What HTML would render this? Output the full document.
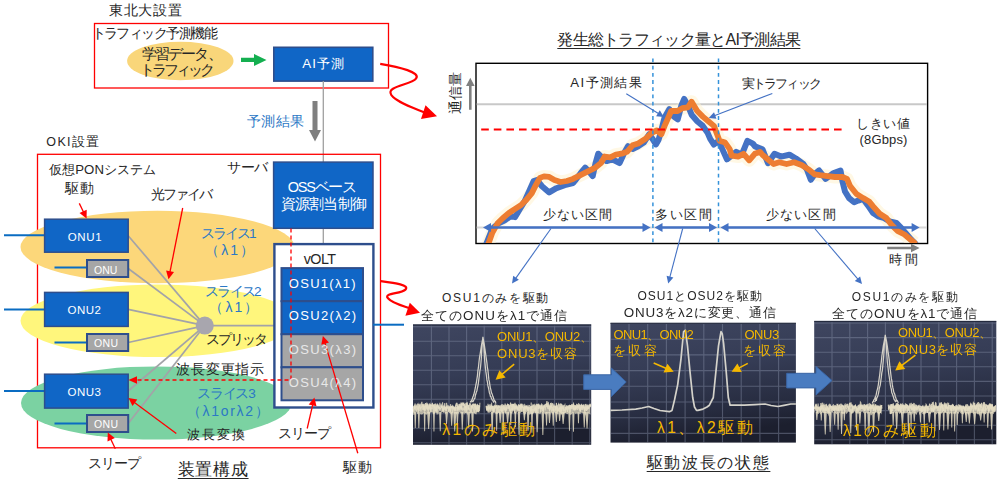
<!DOCTYPE html>
<html lang="ja"><head><meta charset="utf-8"><title>AI traffic prediction</title>
<style>
html,body{margin:0;padding:0;background:#fff;}
body{width:1000px;height:484px;position:relative;overflow:hidden;font-family:"Liberation Sans",sans-serif;}
.t{position:absolute;line-height:1;white-space:nowrap;}
</style></head><body>
<svg width="1000" height="484" viewBox="0 0 1000 484" style="position:absolute;left:0;top:0"><defs><linearGradient id="pg" x1="0" y1="0" x2="0.2" y2="1"><stop offset="0" stop-color="#3f4660"/><stop offset="0.45" stop-color="#353c55"/><stop offset="0.8" stop-color="#272c40"/><stop offset="1" stop-color="#1c1f2e"/></linearGradient><filter id="bl" x="-5%" y="-5%" width="110%" height="110%"><feGaussianBlur stdDeviation="0.45"/></filter></defs><rect x="94.5" y="23.5" width="294" height="64.5" fill="none" stroke="#FF0000" stroke-width="1.3"/><ellipse cx="180.3" cy="61" rx="53.2" ry="19.3" fill="#F9D67A"/><path d="M241,57.8H254V53.9L266.5,59.9L254,65.9V61.9H241Z" fill="#14AF50"/><rect x="273.8" y="47.3" width="99" height="33.8" fill="#1066C6" stroke="#2E4E8C" stroke-width="1.6"/><line x1="323.3" y1="81" x2="323.3" y2="244" stroke="#A0A0A0" stroke-width="1.3"/><path d="M312.5,101H317.5V130H321L315,141.5L309,130H312.5Z" fill="#7F7F7F"/><rect x="37.5" y="154.3" width="343" height="293.5" fill="none" stroke="#FF0000" stroke-width="1.3"/><ellipse cx="157.5" cy="247.05" rx="137" ry="36.25" fill="#FCD77A"/><ellipse cx="157.7" cy="320.85" rx="137.2" ry="36.25" fill="#FFF67C"/><ellipse cx="156.3" cy="403" rx="135.3" ry="36.6" fill="#7BD2A2"/><line x1="4" y1="235.2" x2="44.6" y2="235.2" stroke="#0A6CC2" stroke-width="2"/><line x1="54.5" y1="267.5" x2="86.6" y2="267.5" stroke="#0A6CC2" stroke-width="2"/><line x1="4" y1="309.4" x2="44.6" y2="309.4" stroke="#0A6CC2" stroke-width="2"/><line x1="54.5" y1="342.5" x2="87" y2="342.5" stroke="#0A6CC2" stroke-width="2"/><line x1="4" y1="391" x2="44.6" y2="391" stroke="#0A6CC2" stroke-width="2"/><line x1="54.5" y1="423.5" x2="87.5" y2="423.5" stroke="#0A6CC2" stroke-width="2"/><line x1="128.2" y1="235.7" x2="204.8" y2="325.6" stroke="#A3A3A8" stroke-width="1.7"/><line x1="128.2" y1="268.5" x2="204.8" y2="325.6" stroke="#A3A3A8" stroke-width="1.7"/><line x1="128.2" y1="309.4" x2="204.8" y2="325.6" stroke="#A3A3A8" stroke-width="1.7"/><line x1="128.2" y1="342.5" x2="204.8" y2="325.6" stroke="#A3A3A8" stroke-width="1.7"/><line x1="128.2" y1="391" x2="204.8" y2="325.6" stroke="#A3A3A8" stroke-width="1.7"/><line x1="128.2" y1="423.5" x2="204.8" y2="325.6" stroke="#A3A3A8" stroke-width="1.7"/><line x1="204.8" y1="325.6" x2="274" y2="325.6" stroke="#A3A3A8" stroke-width="1.8"/><circle cx="204.8" cy="325.6" r="9" fill="#A8A6AE"/><rect x="44.6" y="219.2" width="83.6" height="33.0" fill="#1066C6" stroke="#2E4E8C" stroke-width="1.5"/><rect x="44.6" y="292.4" width="83.6" height="34.0" fill="#1066C6" stroke="#2E4E8C" stroke-width="1.5"/><rect x="44.6" y="374.2" width="83.6" height="33.9" fill="#1066C6" stroke="#2E4E8C" stroke-width="1.5"/><rect x="87" y="260" width="41.2" height="17" fill="#A6A6A6" stroke="#2E4E8C" stroke-width="2"/><rect x="87" y="334" width="41.2" height="17" fill="#A6A6A6" stroke="#2E4E8C" stroke-width="2"/><rect x="87" y="415" width="41.2" height="17" fill="#A6A6A6" stroke="#2E4E8C" stroke-width="2"/><rect x="273.6" y="162.1" width="99.4" height="66.2" fill="#1066C6" stroke="#2E4E8C" stroke-width="1.5"/><rect x="274.4" y="244.1" width="99" height="163.4" fill="#FFFFFF" stroke="#2E4E8C" stroke-width="2.4"/><rect x="281.5" y="268.1" width="81.5" height="33.1" fill="#1066C6" stroke="#2E4E8C" stroke-width="2"/><rect x="281.5" y="301.2" width="81.5" height="33.0" fill="#1066C6" stroke="#2E4E8C" stroke-width="2"/><rect x="281.5" y="334.2" width="81.5" height="33.1" fill="#A6A6A6" stroke="#2E4E8C" stroke-width="2"/><rect x="281.5" y="367.3" width="81.5" height="33.0" fill="#A6A6A6" stroke="#2E4E8C" stroke-width="2"/><path d="M291,228.5V380H136" fill="none" stroke="#FF0000" stroke-width="1.3" stroke-dasharray="4,3"/><polygon points="128.5,380 137,376.3 137,383.7" fill="#FF0000"/><line x1="373" y1="324.7" x2="404" y2="324.7" stroke="#0A6CC2" stroke-width="2"/><line x1="79.3" y1="203.4" x2="83.6" y2="212.3" stroke="#FF0000" stroke-width="1.3"/><polygon points="86.6,218.6 79.5,213.1 86.7,209.7" fill="#FF0000"/><line x1="182.7" y1="208.0" x2="169.9" y2="272.3" stroke="#FF0000" stroke-width="1.3"/><polygon points="168.5,279.2 166.1,270.6 174.0,272.1" fill="#FF0000"/><line x1="176.3" y1="433.6" x2="134.1" y2="402.2" stroke="#FF0000" stroke-width="1.3"/><polygon points="128.5,398.0 137.3,399.6 132.5,406.0" fill="#FF0000"/><line x1="115.3" y1="448.8" x2="110.7" y2="438.9" stroke="#FF0000" stroke-width="1.3"/><polygon points="107.8,432.5 114.8,438.1 107.5,441.4" fill="#FF0000"/><line x1="307.2" y1="428.5" x2="312.8" y2="404.4" stroke="#FF0000" stroke-width="1.3"/><polygon points="314.4,397.6 316.5,406.3 308.7,404.5" fill="#FF0000"/><line x1="357.8" y1="453.3" x2="324.9" y2="342.6" stroke="#FF0000" stroke-width="1.3"/><polygon points="322.9,335.9 329.0,342.4 321.3,344.7" fill="#FF0000"/><path d="M380.2,63.8C400,67 421,72.5 416,78.6C411,85 385,86 391.4,95.2C396,101.5 410,107 424,112.3" fill="none" stroke="#FF0000" stroke-width="2.2"/><polygon points="437,116.3 425.5,105.3 421,119" fill="#FF0000"/><path d="M380.4,281C395,283 410,285 405.4,289.6C401,294 383,293 388,298.3C392,303 400,305 409,308" fill="none" stroke="#FF0000" stroke-width="2.2"/><polygon points="420,312.8 409.8,302.7 405.4,315.7" fill="#FF0000"/><rect x="476" y="63.3" width="451.6" height="180.2" fill="#FFFFFF" stroke="#000" stroke-width="1.4"/><line x1="476.7" y1="104.3" x2="926.9" y2="104.3" stroke="#C8C8C8" stroke-width="2"/><line x1="476.7" y1="227.5" x2="926.9" y2="227.5" stroke="#D8D8D8" stroke-width="2"/><clipPath id="cc"><rect x="476.7" y="64" width="450" height="179"/></clipPath><g clip-path="url(#cc)"><polyline points="488.3,244.0 492.4,232.6 497.6,223.3 502.7,218.2 508.9,213.0 515.1,208.9 521.3,204.8 526.5,199.6 531.7,193.4 535.8,185.1 539.9,177.9 544.0,176.4 549.2,176.9 554.4,180.0 560.6,182.0 566.8,181.0 573.0,178.9 575.0,177.8 582.4,174.1 589.9,170.4 595.4,167.6 601.0,163.0 604.7,156.5 610.3,157.4 615.9,154.6 621.5,153.7 627.0,151.8 632.6,145.3 638.2,143.5 645.6,138.8 651.2,133.2 656.8,130.4 661.4,134.2 664.6,125.9 671.2,111.0 677.7,111.0 682.3,108.2 687.9,107.3 691.6,101.7 697.2,111.0 702.8,116.6 708.3,121.2 713.9,125.9 716.7,133.3 719.5,140.8 725.1,142.6 729.7,149.1 731.6,155.6 738.1,156.6 743.6,153.8 749.2,160.3 754.8,153.8 760.0,151.9 762.4,154.7 768.9,160.3 773.6,164.0 779.2,162.2 786.6,164.0 794.0,162.2 801.5,165.0 808.9,169.6 814.5,174.3 820.1,175.2 827.5,176.1 834.9,177.0 842.4,177.0 847.0,178.9 849.9,185.7 856.5,194.0 863.2,198.1 869.0,201.4 873.1,206.4 879.7,213.8 886.3,218.0 891.3,224.6 897.9,231.2 904.5,234.5 909.5,238.7 914.5,242.8" fill="none" stroke="#FFF3CF" stroke-width="13" stroke-linejoin="round" opacity="0.55"/><polyline points="486.2,244.0 492.4,228.5 498.6,223.3 504.8,220.2 511.0,216.1 515.1,217.1 519.3,209.9 524.4,201.7 529.6,190.3 533.7,181.0 536.8,180.0 542.0,186.2 549.2,192.4 556.4,188.2 564.7,185.1 573.0,183.0 575.0,180.6 580.6,173.2 585.2,167.6 588.9,171.3 592.7,176.0 595.4,163.9 598.2,153.7 602.0,157.4 606.6,161.1 612.2,159.3 619.6,163.0 624.3,152.8 628.0,146.2 632.6,149.0 638.2,146.2 643.8,142.5 649.3,134.2 653.1,139.7 655.9,144.4 658.6,139.7 660.0,135.2 664.6,117.5 669.3,109.2 673.9,116.6 677.7,119.4 681.4,105.4 684.2,98.9 687.9,105.4 691.6,114.7 697.2,121.2 702.8,125.9 707.4,132.4 710.2,138.9 713.9,144.5 718.6,140.8 722.3,149.1 726.9,159.3 731.6,155.6 736.2,151.9 741.8,154.7 747.4,140.8 752.9,143.6 755.0,146.4 762.4,149.2 768.0,163.1 774.5,153.8 781.0,156.6 789.4,154.7 795.9,158.5 803.3,164.0 807.0,169.6 810.8,179.8 815.4,173.3 819.1,170.5 825.6,178.9 833.1,173.3 840.5,170.5 842.5,181.6 845.0,191.5 849.1,198.1 854.1,202.3 858.2,200.6 863.2,199.0 868.1,205.6 873.1,213.0 878.1,216.3 883.8,218.0 889.6,221.3 896.3,222.9 901.2,227.9 906.2,233.7 911.1,239.5 915.3,243.6" fill="none" stroke="#4472C4" stroke-width="6" stroke-linejoin="round" stroke-linecap="round"/><polyline points="488.3,244.0 492.4,232.6 497.6,223.3 502.7,218.2 508.9,213.0 515.1,208.9 521.3,204.8 526.5,199.6 531.7,193.4 535.8,185.1 539.9,177.9 544.0,176.4 549.2,176.9 554.4,180.0 560.6,182.0 566.8,181.0 573.0,178.9 575.0,177.8 582.4,174.1 589.9,170.4 595.4,167.6 601.0,163.0 604.7,156.5 610.3,157.4 615.9,154.6 621.5,153.7 627.0,151.8 632.6,145.3 638.2,143.5 645.6,138.8 651.2,133.2 656.8,130.4 661.4,134.2 664.6,125.9 671.2,111.0 677.7,111.0 682.3,108.2 687.9,107.3 691.6,101.7 697.2,111.0 702.8,116.6 708.3,121.2 713.9,125.9 716.7,133.3 719.5,140.8 725.1,142.6 729.7,149.1 731.6,155.6 738.1,156.6 743.6,153.8 749.2,160.3 754.8,153.8 760.0,151.9 762.4,154.7 768.9,160.3 773.6,164.0 779.2,162.2 786.6,164.0 794.0,162.2 801.5,165.0 808.9,169.6 814.5,174.3 820.1,175.2 827.5,176.1 834.9,177.0 842.4,177.0 847.0,178.9 849.9,185.7 856.5,194.0 863.2,198.1 869.0,201.4 873.1,206.4 879.7,213.8 886.3,218.0 891.3,224.6 897.9,231.2 904.5,234.5 909.5,238.7 914.5,242.8" fill="none" stroke="#ED7D31" stroke-width="5.8" stroke-linejoin="round" stroke-linecap="round"/></g><line x1="481.2" y1="129.6" x2="842" y2="129.6" stroke="#FF0000" stroke-width="2" stroke-dasharray="7.6,5"/><line x1="652.9" y1="58.5" x2="652.9" y2="243.5" stroke="#3592DA" stroke-width="1.5" stroke-dasharray="3.8,3.4"/><line x1="718.5" y1="58.5" x2="718.5" y2="243.5" stroke="#3592DA" stroke-width="1.5" stroke-dasharray="3.8,3.4"/><line x1="489" y1="227.5" x2="644.5" y2="227.5" stroke="#4472C4" stroke-width="2.5"/><polygon points="483,227.5 491,223.0 491,232.0" fill="#4472C4"/><polygon points="650.5,227.5 642.5,223.0 642.5,232.0" fill="#4472C4"/><line x1="660.5" y1="227.5" x2="711" y2="227.5" stroke="#4472C4" stroke-width="2.5"/><polygon points="654.5,227.5 662.5,223.0 662.5,232.0" fill="#4472C4"/><polygon points="717,227.5 709,223.0 709,232.0" fill="#4472C4"/><line x1="726.5" y1="227.5" x2="913.6" y2="227.5" stroke="#4472C4" stroke-width="2.5"/><polygon points="720.5,227.5 728.5,223.0 728.5,232.0" fill="#4472C4"/><polygon points="919.6,227.5 911.6,223.0 911.6,232.0" fill="#4472C4"/><line x1="626.3" y1="93.7" x2="658.8" y2="113.7" stroke="#4472C4" stroke-width="1.1"/><polygon points="663.9,116.9 656.1,116.2 659.8,110.2" fill="#4472C4"/><line x1="772.3" y1="93.5" x2="714.3" y2="115.8" stroke="#4472C4" stroke-width="1.1"/><polygon points="708.7,118.0 714.0,112.2 716.5,118.7" fill="#4472C4"/><line x1="551.0" y1="228.5" x2="515.5" y2="278.6" stroke="#4472C4" stroke-width="1.1"/><polygon points="512.0,283.5 513.2,275.8 518.9,279.8" fill="#4472C4"/><line x1="682.7" y1="228.5" x2="669.7" y2="277.7" stroke="#4472C4" stroke-width="1.1"/><polygon points="668.2,283.5 666.6,275.8 673.4,277.6" fill="#4472C4"/><line x1="814.7" y1="228.5" x2="858.1" y2="279.4" stroke="#4472C4" stroke-width="1.1"/><polygon points="862.0,284.0 854.8,280.9 860.1,276.4" fill="#4472C4"/><path d="M469,109.7V86H466L470.3,77.8L474.6,86H471.6V109.7Z" fill="#808080"/><path d="M887.2,246.7H911V243.7L919.6,248L911,252.3V249.3H887.2Z" fill="#808080"/><rect x="413" y="324.4" width="178.2" height="120.4" fill="url(#pg)"/><path d="M431.4,325.4V444.79999999999995M449.0,325.4V444.79999999999995M466.6,325.4V444.79999999999995M484.2,325.4V444.79999999999995M501.8,325.4V444.79999999999995M519.4,325.4V444.79999999999995M537.0,325.4V444.79999999999995M554.6,325.4V444.79999999999995M572.2,325.4V444.79999999999995M589.8,325.4V444.79999999999995M413,326.7H591.2M413,341.2H591.2M413,355.7H591.2M413,370.2H591.2M413,384.7H591.2M413,399.2H591.2M413,413.7H591.2M413,428.2H591.2M413,442.7H591.2" stroke="#8c95ad" stroke-width="1.1" opacity="0.42" filter="url(#bl)"/><rect x="413" y="324.4" width="178.2" height="1.2" fill="#1a1f30" opacity="0.7"/><rect x="610.5" y="322.8" width="185.4" height="119.8" fill="url(#pg)"/><path d="M629.0,323.8V442.6M647.7,323.8V442.6M666.4,323.8V442.6M685.1,323.8V442.6M703.8,323.8V442.6M722.5,323.8V442.6M741.2,323.8V442.6M759.9,323.8V442.6M778.6,323.8V442.6M610.5,323.5H795.9M610.5,339.2H795.9M610.5,354.9H795.9M610.5,370.6H795.9M610.5,386.3H795.9M610.5,402.0H795.9M610.5,417.7H795.9M610.5,433.4H795.9" stroke="#8c95ad" stroke-width="1.1" opacity="0.42" filter="url(#bl)"/><rect x="610.5" y="322.8" width="185.4" height="1.2" fill="#1a1f30" opacity="0.7"/><rect x="814.2" y="320.9" width="182.1" height="123.4" fill="url(#pg)"/><path d="M832.0,321.9V444.29999999999995M849.8,321.9V444.29999999999995M867.6,321.9V444.29999999999995M885.4,321.9V444.29999999999995M903.2,321.9V444.29999999999995M921.0,321.9V444.29999999999995M938.8,321.9V444.29999999999995M956.6,321.9V444.29999999999995M974.4,321.9V444.29999999999995M992.2,321.9V444.29999999999995M814.2,323.0H996.3000000000001M814.2,337.6H996.3000000000001M814.2,352.2H996.3000000000001M814.2,366.8H996.3000000000001M814.2,381.4H996.3000000000001M814.2,396.0H996.3000000000001M814.2,410.6H996.3000000000001M814.2,425.2H996.3000000000001M814.2,439.8H996.3000000000001" stroke="#8c95ad" stroke-width="1.1" opacity="0.42" filter="url(#bl)"/><rect x="814.2" y="320.9" width="182.1" height="1.2" fill="#1a1f30" opacity="0.7"/><g filter="url(#bl)"><path d="M413.3,407.0L414.3,404.6L415.3,406.4L416.3,405.4L417.3,405.9L418.3,406.6L419.3,403.9L420.3,407.3L421.3,407.8L422.3,404.0L423.3,405.7L424.3,403.9L425.3,404.5L426.3,404.7L427.3,403.6L428.3,404.9L429.3,403.0L430.3,404.9L431.3,404.8L432.3,404.6L433.3,404.7L434.3,404.2L435.3,403.6L436.3,403.4L437.3,405.2L438.3,405.0L439.3,407.0L440.3,407.0L441.3,405.0L442.3,406.2L443.3,405.4L444.3,405.6L445.3,407.2L446.3,406.5L447.3,406.6L448.3,406.1L449.3,407.4L450.3,406.5L451.3,407.2L452.3,406.2L453.3,406.6L454.3,407.6L455.3,406.8L456.3,406.7L457.3,406.3L458.3,403.7L459.3,404.9L460.3,406.1L461.3,403.4L462.3,404.5L463.3,402.5L464.3,404.3L465.3,403.2L466.3,402.8L467.3,405.2L468.3,404.7L469.3,405.3L470.3,404.2L471.3,405.9L472.3,403.5L473.3,404.7L474.3,404.0L475.3,406.6L476.3,406.1L477.3,403.3L478.3,404.9L479.3,404.8L479.3,413.1L478.3,411.6L477.3,411.2L476.3,414.5L475.3,413.9L474.3,413.5L473.3,412.0L472.3,412.9L471.3,411.9L470.3,413.0L469.3,413.0L468.3,412.0L467.3,415.1L466.3,413.3L465.3,409.5L464.3,414.7L463.3,412.5L462.3,414.2L461.3,412.9L460.3,413.4L459.3,412.0L458.3,414.1L457.3,412.7L456.3,414.3L455.3,412.9L454.3,414.1L453.3,412.0L452.3,412.5L451.3,414.7L450.3,413.2L449.3,412.9L448.3,411.8L447.3,412.5L446.3,413.0L445.3,414.1L444.3,412.2L443.3,413.1L442.3,411.7L441.3,412.8L440.3,410.9L439.3,411.5L438.3,414.6L437.3,412.8L436.3,412.9L435.3,412.7L434.3,414.0L433.3,414.2L432.3,412.3L431.3,412.2L430.3,412.8L429.3,414.2L428.3,412.0L427.3,413.6L426.3,414.9L425.3,414.1L424.3,413.0L423.3,413.3L422.3,414.5L421.3,414.5L420.3,414.2L419.3,411.1L418.3,413.8L417.3,414.0L416.3,411.7L415.3,412.0L414.3,415.0L413.3,414.8ZM487.3,405.6L488.3,407.2L489.3,406.1L490.3,407.7L491.3,408.0L492.3,405.5L493.3,406.6L494.3,405.7L495.3,406.6L496.3,404.7L497.3,404.8L498.3,405.1L499.3,405.3L500.3,405.2L501.3,404.3L502.3,403.9L503.3,404.4L504.3,405.2L505.3,404.2L506.3,405.4L507.3,403.2L508.3,404.0L509.3,405.4L510.3,404.5L511.3,405.5L512.3,404.3L513.3,404.6L514.3,404.6L515.3,406.6L516.3,404.6L517.3,406.1L518.3,403.9L519.3,406.5L520.3,403.5L521.3,405.9L522.3,406.3L523.3,407.3L524.3,406.1L525.3,406.6L526.3,406.5L527.3,404.6L528.3,406.9L529.3,407.9L530.3,405.8L531.3,408.2L532.3,404.8L533.3,404.1L534.3,405.6L535.3,405.5L536.3,404.2L537.3,404.5L538.3,403.8L539.3,404.4L540.3,405.5L541.3,403.1L542.3,404.0L543.3,405.3L544.3,403.8L545.3,405.7L546.3,403.4L547.3,403.7L548.3,405.2L549.3,404.2L550.3,406.1L551.3,404.9L552.3,405.5L553.3,404.5L554.3,403.5L555.3,407.2L556.3,405.5L557.3,406.2L558.3,407.8L559.3,408.1L560.3,405.9L561.3,406.7L562.3,407.3L563.3,408.1L564.3,406.9L565.3,406.4L566.3,407.1L567.3,406.3L568.3,405.8L569.3,406.9L570.3,405.4L571.3,404.5L572.3,404.2L573.3,404.0L574.3,404.5L575.3,405.9L576.3,405.6L577.3,406.3L578.3,404.8L579.3,405.1L580.3,404.4L581.3,405.2L582.3,405.0L583.3,404.7L584.3,404.0L585.3,406.2L586.3,404.4L587.3,404.6L588.3,404.7L589.3,404.3L590.3,406.4L590.3,414.8L589.3,413.7L588.3,413.5L587.3,412.0L586.3,411.7L585.3,415.8L584.3,413.1L583.3,412.6L582.3,413.4L581.3,412.6L580.3,413.9L579.3,413.8L578.3,411.7L577.3,414.2L576.3,413.2L575.3,414.0L574.3,412.3L573.3,412.3L572.3,413.5L571.3,414.4L570.3,415.0L569.3,411.7L568.3,413.5L567.3,414.2L566.3,413.6L565.3,412.9L564.3,413.2L563.3,413.9L562.3,412.8L561.3,413.7L560.3,413.0L559.3,412.3L558.3,411.3L557.3,410.7L556.3,414.1L555.3,410.5L554.3,413.1L553.3,412.3L552.3,413.4L551.3,413.1L550.3,412.1L549.3,413.4L548.3,412.6L547.3,414.0L546.3,412.7L545.3,414.7L544.3,413.3L543.3,411.8L542.3,413.1L541.3,412.0L540.3,414.2L539.3,413.4L538.3,413.4L537.3,412.2L536.3,412.8L535.3,413.6L534.3,412.5L533.3,411.4L532.3,412.5L531.3,412.6L530.3,413.7L529.3,415.0L528.3,412.3L527.3,412.2L526.3,412.5L525.3,411.2L524.3,413.3L523.3,413.0L522.3,411.6L521.3,411.9L520.3,413.0L519.3,412.3L518.3,412.9L517.3,411.3L516.3,413.2L515.3,414.3L514.3,412.2L513.3,410.3L512.3,413.5L511.3,413.4L510.3,413.3L509.3,411.0L508.3,414.9L507.3,411.7L506.3,412.7L505.3,411.8L504.3,412.9L503.3,413.7L502.3,413.2L501.3,411.2L500.3,414.3L499.3,413.6L498.3,412.3L497.3,412.9L496.3,413.5L495.3,413.6L494.3,412.1L493.3,412.0L492.3,414.0L491.3,411.5L490.3,412.3L489.3,412.8L488.3,412.8L487.3,412.3Z" fill="#E6DEC4" opacity="0.75"/><path d="M414.3,412.0L416.3,412.0L415.7,427.9L414.8,427.9ZM417.8,412.0L419.9,412.0L419.3,428.0L418.4,428.0ZM423.7,412.0L425.6,412.0L425.1,431.3L424.2,431.3ZM427.1,412.0L430.2,412.0L429.1,429.1L428.2,429.1ZM433.0,412.0L434.9,412.0L434.4,431.4L433.5,431.4ZM439.1,412.0L441.4,412.0L440.7,431.3L439.8,431.3ZM445.2,412.0L448.0,412.0L447.0,423.9L446.1,423.9ZM450.3,412.0L453.0,412.0L452.1,425.7L451.2,425.7ZM453.2,412.0L456.3,412.0L455.2,431.6L454.3,431.6ZM456.2,412.0L458.6,412.0L457.8,425.3L456.9,425.3ZM461.1,412.0L463.5,412.0L462.7,429.8L461.8,429.8ZM467.2,412.0L470.0,412.0L469.1,427.8L468.2,427.8ZM471.2,412.0L473.8,412.0L473.0,431.5L472.1,431.5ZM490.9,412.0L493.4,412.0L492.6,434.8L491.7,434.8ZM495.5,412.0L497.7,412.0L497.1,430.8L496.2,430.8ZM498.8,412.0L501.6,412.0L500.6,423.1L499.7,423.1ZM502.3,412.0L504.2,412.0L503.7,434.4L502.8,434.4ZM506.0,412.0L509.2,412.0L508.1,423.3L507.2,423.3ZM509.6,412.0L511.9,412.0L511.2,425.1L510.3,425.1ZM514.4,412.0L516.3,412.0L515.8,427.0L514.9,427.0ZM517.8,412.0L520.2,412.0L519.5,434.8L518.6,434.8ZM523.1,412.0L525.7,412.0L524.8,420.3L523.9,420.3ZM526.9,412.0L529.3,412.0L528.5,430.8L527.6,430.8ZM531.0,412.0L533.0,412.0L532.4,432.7L531.5,432.7ZM535.8,412.0L538.5,412.0L537.6,432.2L536.7,432.2ZM541.5,412.0L544.1,412.0L543.3,434.9L542.4,434.9ZM545.3,412.0L547.7,412.0L547.0,425.6L546.1,425.6ZM548.1,412.0L550.9,412.0L549.9,422.9L549.0,422.9ZM552.1,412.0L554.3,412.0L553.7,425.7L552.8,425.7ZM555.0,412.0L557.6,412.0L556.8,422.1L555.9,422.1ZM558.3,412.0L561.0,412.0L560.1,421.0L559.2,421.0ZM561.6,412.0L564.8,412.0L563.6,424.0L562.7,424.0ZM568.3,412.0L570.6,412.0L569.9,430.7L569.0,430.7ZM572.3,412.0L574.5,412.0L573.9,431.7L573.0,431.7ZM577.6,412.0L579.4,412.0L578.9,423.3L578.0,423.3ZM583.0,412.0L585.5,412.0L584.7,427.4L583.8,427.4ZM585.4,412.0L588.6,412.0L587.5,428.4L586.6,428.4Z" fill="#E6DEC4" opacity="0.85"/><path d="M413.30,408.2L413.75,412.6L414.20,405.9L414.65,406.9L415.10,403.6L415.55,408.3L416.00,406.4L416.45,407.1L416.90,404.8L417.35,404.9L417.80,404.1L418.25,412.1L418.70,404.7L419.15,405.2L419.60,407.3L420.05,403.6L420.50,405.7L420.95,411.4L421.40,405.4L421.85,401.9L422.30,406.6L422.75,404.6L423.20,404.4L423.65,409.7L424.10,406.2L424.55,410.3L425.00,406.1L425.45,403.1L425.90,406.4L426.35,407.3L426.80,402.6L427.25,409.9L427.70,403.6L428.15,409.1L428.60,408.1L429.05,408.0L429.50,405.2L429.95,404.2L430.40,408.3L430.85,412.0L431.30,404.5L431.75,405.9L432.20,403.2L432.65,406.0L433.10,405.6L433.55,406.2L434.00,404.5L434.45,408.2L434.90,406.2L435.35,411.3L435.80,406.8L436.25,410.8L436.70,406.8L437.15,406.9L437.60,405.0L438.05,405.6L438.50,408.6L438.95,406.9L439.40,407.1L439.85,409.4L440.30,409.2L440.75,407.7L441.20,407.3L441.65,406.5L442.10,407.1L442.55,410.0L443.00,408.8L443.45,411.6L443.90,408.7L444.35,409.0L444.80,406.7L445.25,407.5L445.70,408.4L446.15,411.1L446.60,406.2L447.05,407.7L447.50,408.1L447.95,407.7L448.40,409.0L448.85,412.2L449.30,407.6L449.75,407.1L450.20,408.4L450.65,412.1L451.10,406.2L451.55,407.4L452.00,406.5L452.45,408.3L452.90,406.1L453.35,407.2L453.80,408.3L454.25,406.6L454.70,408.7L455.15,410.3L455.60,405.4L456.05,404.1L456.50,406.0L456.95,402.8L457.40,405.0L457.85,410.5L458.30,406.7L458.75,409.5L459.20,407.0L459.65,403.8L460.10,406.7L460.55,408.1L461.00,402.5L461.45,409.6L461.90,402.7L462.35,404.2L462.80,403.4L463.25,406.0L463.70,402.7L464.15,404.3L464.60,405.3L465.05,413.2L465.50,406.5L465.95,413.0L466.40,403.4L466.85,404.1L467.30,403.2L467.75,405.7L468.20,406.0L468.65,409.3L469.10,405.5L469.55,404.7L470.00,402.8L470.45,404.8L470.90,405.2L471.35,406.5L471.80,407.4L472.25,404.5L472.70,406.6L473.15,403.7L473.60,405.0L474.05,403.6L474.50,406.8L474.95,406.9L475.40,403.6L475.85,409.6L476.30,407.9L476.75,412.2L477.20,407.4L477.65,404.7L478.10,408.1L478.55,412.2L479.00,408.0L479.45,406.4L479.90,406.9M486.20,406.1L486.65,410.6L487.10,406.3L487.55,410.6L488.00,408.2L488.45,405.8L488.90,406.1L489.35,409.5L489.80,407.3L490.25,407.3L490.70,406.0L491.15,409.4L491.60,405.4L492.05,408.6L492.50,406.1L492.95,411.8L493.40,408.2L493.85,412.5L494.30,405.2L494.75,409.0L495.20,406.4L495.65,407.2L496.10,406.3L496.55,406.1L497.00,406.7L497.45,408.4L497.90,407.6L498.35,406.7L498.80,406.3L499.25,407.3L499.70,406.8L500.15,407.6L500.60,406.5L501.05,411.9L501.50,405.4L501.95,413.4L502.40,405.8L502.85,410.9L503.30,405.3L503.75,407.1L504.20,409.0L504.65,409.7L505.10,403.6L505.55,413.4L506.00,407.7L506.45,409.9L506.90,405.5L507.35,405.5L507.80,404.0L508.25,408.2L508.70,404.4L509.15,407.2L509.60,405.5L510.05,411.4L510.50,402.6L510.95,404.0L511.40,405.0L511.85,409.6L512.30,403.9L512.75,410.8L513.20,404.5L513.65,404.4L514.10,404.3L514.55,408.7L515.00,402.7L515.45,409.4L515.90,404.2L516.35,406.5L516.80,408.0L517.25,409.5L517.70,407.2L518.15,408.9L518.60,407.2L519.05,411.3L519.50,404.7L519.95,411.2L520.40,405.5L520.85,406.6L521.30,403.7L521.75,407.1L522.20,406.1L522.65,406.1L523.10,408.3L523.55,411.8L524.00,408.0L524.45,408.4L524.90,405.3L525.35,406.3L525.80,408.1L526.25,407.4L526.70,405.8L527.15,408.5L527.60,407.9L528.05,411.5L528.50,407.0L528.95,412.6L529.40,407.1L529.85,409.3L530.30,406.9L530.75,411.5L531.20,408.9L531.65,406.1L532.10,410.1L532.55,413.9L533.00,408.7L533.45,413.2L533.90,407.6L534.35,410.9L534.80,408.1L535.25,406.8L535.70,408.8L536.15,412.3L536.60,407.2L537.05,407.7L537.50,404.9L537.95,404.4L538.40,409.0L538.85,406.0L539.30,407.1L539.75,406.9L540.20,408.6L540.65,408.7L541.10,405.2L541.55,408.8L542.00,405.8L542.45,407.4L542.90,408.1L543.35,412.2L543.80,406.5L544.25,405.9L544.70,405.7L545.15,405.7L545.60,404.4L546.05,404.7L546.50,404.2L546.95,401.1L547.40,407.2L547.85,403.5L548.30,402.9L548.75,406.4L549.20,406.6L549.65,411.5L550.10,405.7L550.55,403.0L551.00,404.3L551.45,407.8L551.90,403.6L552.35,404.2L552.80,403.8L553.25,411.0L553.70,406.5L554.15,406.9L554.60,406.3L555.05,407.6L555.50,406.3L555.95,413.1L556.40,402.9L556.85,407.1L557.30,405.2L557.75,412.3L558.20,405.0L558.65,404.1L559.10,406.9L559.55,411.9L560.00,403.7L560.45,411.9L560.90,403.3L561.35,411.5L561.80,404.0L562.25,407.8L562.70,407.2L563.15,408.7L563.60,405.3L564.05,410.9L564.50,408.9L564.95,413.2L565.40,407.5L565.85,407.4L566.30,408.6L566.75,406.6L567.20,407.6L567.65,412.3L568.10,408.6L568.55,406.7L569.00,409.4L569.45,404.9L569.90,408.2L570.35,405.1L570.80,408.3L571.25,406.8L571.70,406.1L572.15,406.3L572.60,406.4L573.05,405.5L573.50,407.5L573.95,410.0L574.40,407.8L574.85,410.5L575.30,405.1L575.75,410.2L576.20,408.7L576.65,407.5L577.10,405.2L577.55,405.7L578.00,408.0L578.45,406.5L578.90,408.5L579.35,409.4L579.80,405.1L580.25,411.8L580.70,408.4L581.15,409.7L581.60,404.8L582.05,407.2L582.50,407.9L582.95,407.2L583.40,407.7L583.85,406.6L584.30,407.9L584.75,412.4L585.20,408.1L585.65,404.0L586.10,405.7L586.55,410.9L587.00,407.9L587.45,406.5L587.90,408.7L588.35,407.8L588.80,408.3L589.25,405.3L589.70,406.9L590.15,404.2L590.60,406.6" fill="none" stroke="#E6DEC4" stroke-width="1.1" opacity="0.9"/><path d="M413.30,407.6L413.75,406.9L414.20,409.1L414.65,407.2L415.10,408.5L415.55,410.2L416.00,407.4L416.45,411.4L416.90,408.3L417.35,409.8L417.80,406.1L418.25,409.6L418.70,407.0L419.15,411.7L419.60,405.3L420.05,408.5L420.50,408.9L420.95,407.5L421.40,407.0L421.85,407.3L422.30,406.7L422.75,409.9L423.20,408.1L423.65,404.3L424.10,409.9L424.55,411.7L425.00,405.9L425.45,410.8L425.90,407.0L426.35,405.5L426.80,408.8L427.25,405.8L427.70,405.3L428.15,413.7L428.60,408.9L429.05,406.2L429.50,405.8L429.95,410.0L430.40,404.2L430.85,407.2L431.30,408.7L431.75,408.2L432.20,408.6L432.65,404.2L433.10,405.2L433.55,412.4L434.00,407.0L434.45,412.6L434.90,403.7L435.35,404.9L435.80,407.4L436.25,411.9L436.70,405.1L437.15,414.5L437.60,404.3L438.05,404.7L438.50,407.7L438.95,408.4L439.40,407.1L439.85,402.8L440.30,406.4L440.75,406.4L441.20,405.0L441.65,406.4L442.10,407.7L442.55,402.4L443.00,408.4L443.45,410.4L443.90,407.9L444.35,405.4L444.80,403.1L445.25,410.3L445.70,406.9L446.15,411.1L446.60,402.9L447.05,408.4L447.50,406.9L447.95,405.6L448.40,406.1L448.85,407.9L449.30,406.3L449.75,410.4L450.20,405.6L450.65,404.2L451.10,407.6L451.55,406.1L452.00,408.4L452.45,412.6L452.90,406.3L453.35,407.9L453.80,409.0L454.25,411.7L454.70,409.1L455.15,410.0L455.60,407.5L456.05,411.4L456.50,407.2L456.95,406.6L457.40,407.3L457.85,411.7L458.30,408.0L458.75,406.1L459.20,408.3L459.65,410.4L460.10,408.3L460.55,406.3L461.00,408.4L461.45,407.0L461.90,407.8L462.35,410.5L462.80,408.9L463.25,408.3L463.70,409.9L464.15,410.0L464.60,408.9L465.05,405.4L465.50,408.0L465.95,406.4L466.40,406.5L466.85,412.4L467.30,405.4L467.75,409.9L468.20,408.8L468.65,409.0L469.10,407.6L469.55,410.3L470.00,408.6L470.45,413.4L470.90,406.0L471.35,412.9L471.80,406.3L472.25,408.3L472.70,406.1L473.15,408.2L473.60,406.9L474.05,413.1L474.50,406.6L474.95,412.8L475.40,404.2L475.85,409.5L476.30,404.5L476.75,407.6L477.20,406.8L477.65,412.2L478.10,406.8L478.55,409.0L479.00,405.1L479.45,411.0L479.90,402.8M486.20,405.7L486.65,408.9L487.10,409.5L487.55,409.6L488.00,403.8L488.45,411.5L488.90,408.3L489.35,405.0L489.80,404.9L490.25,411.3L490.70,407.3L491.15,404.5L491.60,403.7L492.05,410.7L492.50,406.0L492.95,407.7L493.40,405.8L493.85,412.9L494.30,410.2L494.75,408.5L495.20,404.7L495.65,405.8L496.10,404.8L496.55,413.9L497.00,406.0L497.45,413.8L497.90,407.2L498.35,412.9L498.80,405.8L499.25,412.7L499.70,410.0L500.15,409.0L500.60,409.6L501.05,410.9L501.50,407.0L501.95,411.1L502.40,409.0L502.85,412.8L503.30,407.6L503.75,409.2L504.20,406.6L504.65,410.1L505.10,408.9L505.55,410.5L506.00,406.5L506.45,410.6L506.90,407.6L507.35,408.2L507.80,408.0L508.25,408.3L508.70,407.2L509.15,409.2L509.60,405.8L510.05,412.7L510.50,409.2L510.95,412.8L511.40,408.8L511.85,409.7L512.30,408.8L512.75,410.0L513.20,404.1L513.65,409.4L514.10,405.8L514.55,413.2L515.00,408.8L515.45,406.5L515.90,406.1L516.35,407.1L516.80,408.7L517.25,409.7L517.70,407.3L518.15,408.3L518.60,404.4L519.05,406.7L519.50,405.1L519.95,407.7L520.40,408.6L520.85,403.9L521.30,408.7L521.75,411.6L522.20,403.8L522.65,405.9L523.10,407.2L523.55,406.3L524.00,404.3L524.45,414.7L524.90,406.4L525.35,413.8L525.80,408.4L526.25,405.4L526.70,406.7L527.15,410.8L527.60,407.0L528.05,410.8L528.50,406.5L528.95,405.4L529.40,405.5L529.85,406.8L530.30,406.6L530.75,414.3L531.20,402.5L531.65,414.0L532.10,405.7L532.55,407.6L533.00,405.6L533.45,407.0L533.90,405.0L534.35,406.7L534.80,403.9L535.25,413.0L535.70,408.5L536.15,412.5L536.60,403.9L537.05,413.3L537.50,408.2L537.95,413.2L538.40,404.8L538.85,408.6L539.30,406.4L539.75,405.3L540.20,407.4L540.65,412.5L541.10,408.0L541.55,404.7L542.00,407.7L542.45,411.2L542.90,406.7L543.35,409.4L543.80,405.7L544.25,407.7L544.70,405.4L545.15,410.4L545.60,406.8L546.05,406.7L546.50,405.1L546.95,406.4L547.40,406.7L547.85,408.9L548.30,405.9L548.75,407.4L549.20,409.7L549.65,406.8L550.10,406.5L550.55,409.8L551.00,405.6L551.45,411.7L551.90,409.0L552.35,407.1L552.80,409.1L553.25,414.4L553.70,409.0L554.15,412.1L554.60,408.3L555.05,409.8L555.50,405.5L555.95,412.5L556.40,406.7L556.85,407.3L557.30,409.1L557.75,414.3L558.20,408.5L558.65,410.3L559.10,408.9L559.55,408.4L560.00,407.2L560.45,408.2L560.90,407.6L561.35,414.5L561.80,409.5L562.25,405.0L562.70,407.8L563.15,414.0L563.60,408.3L564.05,405.6L564.50,406.0L564.95,404.8L565.40,407.3L565.85,412.2L566.30,407.9L566.75,405.9L567.20,406.0L567.65,408.2L568.10,405.5L568.55,408.0L569.00,405.1L569.45,412.4L569.90,406.2L570.35,412.3L570.80,407.0L571.25,407.8L571.70,404.3L572.15,408.6L572.60,406.2L573.05,409.5L573.50,402.5L573.95,410.8L574.40,405.3L574.85,408.6L575.30,407.4L575.75,409.5L576.20,407.0L576.65,404.4L577.10,404.6L577.55,410.0L578.00,407.1L578.45,403.8L578.90,404.2L579.35,404.3L579.80,405.1L580.25,411.5L580.70,407.6L581.15,406.2L581.60,403.9L582.05,409.9L582.50,405.3L582.95,409.9L583.40,404.5L583.85,407.5L584.30,407.3L584.75,410.8L585.20,407.3L585.65,410.5L586.10,408.3L586.55,408.2L587.00,405.9L587.45,409.4L587.90,407.6L588.35,407.1L588.80,406.5L589.25,405.7L589.70,407.1L590.15,405.0L590.60,406.4" fill="none" stroke="#E6DEC4" stroke-width="1.1" opacity="0.8"/><path d="M469.9,401.7L470.4,401.6L470.9,402.1L471.4,400.3L471.9,400.2L472.4,398.5L472.9,396.9L473.4,395.7L473.9,394.3L474.4,392.2L474.9,389.9L475.4,387.5L475.9,384.5L476.4,382.3L476.9,379.2L477.4,375.8L477.9,370.6L478.4,367.7L478.9,362.8L479.5,357.5L480.2,353.5L480.9,349.2L481.6,344.6L482.3,340.8L482.9,338.5L483.3,340.9L483.6,344.3L483.9,347.7L484.2,353.1L484.5,358.4L484.9,362.6L485.4,367.6L485.9,371.9L486.4,375.4L486.9,379.9L487.4,381.8L487.9,385.7L488.4,387.7L488.9,389.9L489.4,392.7L489.9,393.9L490.4,396.3L490.9,396.6L491.4,398.5L491.9,399.1L492.4,400.3L492.9,400.9L493.4,401.2L493.9,402.7M471.9,401.7L472.4,401.3L472.9,401.6L473.4,400.9L473.9,399.8L474.4,398.6L474.9,398.4L475.4,395.2L475.9,393.8L476.4,391.9L476.9,390.7L477.4,388.1L477.9,385.8L478.4,382.8L478.9,378.9L479.4,375.0L479.9,371.0L480.4,368.4L480.9,363.3L481.3,358.5L481.6,353.3L481.9,348.7L482.2,344.2L482.5,340.3L482.9,336.8L483.5,340.4L484.2,344.1L484.9,348.9L485.6,353.6L486.3,358.6L486.9,362.8L487.4,367.7L487.9,370.2L488.4,374.8L488.9,379.9L489.4,381.7L489.9,385.1L490.4,388.3L490.9,389.8L491.4,392.7L491.9,393.5L492.4,394.9L492.9,396.6L493.4,397.6L493.9,399.5L494.4,400.2L494.9,401.3L495.4,401.3L495.9,403.6" fill="none" stroke="#DCD8CC" stroke-width="1.25" opacity="0.95"/></g><g filter="url(#bl)"><path d="M814.5,407.3L815.5,406.6L816.5,407.1L817.5,407.5L818.5,407.3L819.5,406.5L820.5,405.7L821.5,405.2L822.5,404.9L823.5,405.1L824.5,404.9L825.5,404.4L826.5,403.4L827.5,406.2L828.5,404.5L829.5,403.4L830.5,403.9L831.5,406.6L832.5,404.9L833.5,403.7L834.5,405.5L835.5,404.8L836.5,406.6L837.5,403.4L838.5,406.0L839.5,404.6L840.5,403.4L841.5,403.5L842.5,404.9L843.5,405.9L844.5,405.9L845.5,406.0L846.5,407.6L847.5,408.9L848.5,405.9L849.5,402.4L850.5,407.2L851.5,403.8L852.5,406.0L853.5,406.2L854.5,407.1L855.5,406.2L856.5,407.6L857.5,408.0L858.5,407.8L859.5,406.7L860.5,404.0L861.5,404.9L862.5,404.4L863.5,404.5L864.5,404.0L865.5,405.8L866.5,404.6L867.5,403.8L868.5,403.8L869.5,402.7L870.5,403.9L871.5,404.5L872.5,404.9L873.5,403.8L874.5,406.5L875.5,404.0L876.5,406.3L877.5,406.0L878.5,405.9L879.5,406.3L880.5,405.8L881.5,405.8L881.5,414.4L880.5,412.9L879.5,413.3L878.5,414.8L877.5,411.9L876.5,412.4L875.5,412.4L874.5,414.4L873.5,413.0L872.5,413.5L871.5,415.3L870.5,415.3L869.5,411.0L868.5,413.0L867.5,413.7L866.5,412.7L865.5,412.6L864.5,411.1L863.5,413.4L862.5,411.3L861.5,411.8L860.5,412.7L859.5,413.4L858.5,412.2L857.5,413.7L856.5,411.8L855.5,412.4L854.5,410.9L853.5,412.8L852.5,412.6L851.5,413.7L850.5,411.9L849.5,411.4L848.5,411.3L847.5,412.8L846.5,414.2L845.5,411.8L844.5,413.9L843.5,413.7L842.5,414.1L841.5,413.3L840.5,411.5L839.5,413.3L838.5,411.4L837.5,412.7L836.5,414.4L835.5,413.1L834.5,412.0L833.5,410.7L832.5,413.0L831.5,411.5L830.5,415.2L829.5,411.1L828.5,416.4L827.5,412.1L826.5,413.1L825.5,413.1L824.5,412.6L823.5,413.3L822.5,412.4L821.5,412.7L820.5,414.8L819.5,412.4L818.5,414.0L817.5,413.7L816.5,410.4L815.5,410.2L814.5,413.3ZM889.5,406.9L890.5,406.2L891.5,404.5L892.5,406.9L893.5,406.8L894.5,407.7L895.5,406.1L896.5,404.7L897.5,404.0L898.5,404.1L899.5,405.5L900.5,403.0L901.5,405.9L902.5,406.3L903.5,404.1L904.5,405.5L905.5,404.7L906.5,403.5L907.5,405.2L908.5,405.6L909.5,404.0L910.5,405.4L911.5,404.6L912.5,404.0L913.5,402.7L914.5,403.0L915.5,404.6L916.5,404.4L917.5,406.2L918.5,404.6L919.5,406.0L920.5,405.9L921.5,406.2L922.5,405.4L923.5,406.4L924.5,408.0L925.5,406.9L926.5,407.8L927.5,407.0L928.5,407.9L929.5,407.4L930.5,407.4L931.5,405.9L932.5,405.8L933.5,404.8L934.5,405.2L935.5,406.1L936.5,405.8L937.5,407.2L938.5,406.2L939.5,407.6L940.5,406.0L941.5,404.3L942.5,404.5L943.5,405.2L944.5,402.1L945.5,403.0L946.5,403.4L947.5,402.1L948.5,404.9L949.5,404.9L950.5,405.6L951.5,405.5L952.5,403.6L953.5,404.5L954.5,407.0L955.5,407.2L956.5,405.7L957.5,405.2L958.5,407.7L959.5,404.8L960.5,407.3L961.5,405.5L962.5,408.1L963.5,406.8L964.5,406.3L965.5,405.7L966.5,409.0L967.5,407.2L968.5,407.5L969.5,407.1L970.5,405.6L971.5,403.1L972.5,404.9L973.5,405.5L974.5,404.9L975.5,405.4L976.5,404.2L977.5,405.1L978.5,404.5L979.5,404.7L980.5,404.0L981.5,406.2L982.5,403.5L983.5,401.8L984.5,404.4L985.5,403.5L986.5,404.8L987.5,405.0L988.5,404.6L989.5,403.6L990.5,405.2L991.5,404.5L992.5,404.7L993.5,406.5L994.5,406.4L995.5,406.2L995.5,411.8L994.5,412.1L993.5,414.3L992.5,413.3L991.5,412.9L990.5,413.9L989.5,413.4L988.5,411.2L987.5,412.0L986.5,413.0L985.5,414.6L984.5,413.3L983.5,413.6L982.5,413.5L981.5,412.9L980.5,412.2L979.5,416.1L978.5,413.9L977.5,413.4L976.5,413.7L975.5,412.0L974.5,413.5L973.5,411.8L972.5,413.1L971.5,412.9L970.5,411.8L969.5,412.9L968.5,414.5L967.5,413.6L966.5,413.0L965.5,415.3L964.5,412.3L963.5,414.6L962.5,414.0L961.5,413.8L960.5,413.3L959.5,411.5L958.5,414.0L957.5,413.1L956.5,412.1L955.5,414.2L954.5,413.2L953.5,414.2L952.5,411.3L951.5,414.1L950.5,412.9L949.5,414.5L948.5,412.0L947.5,414.8L946.5,412.8L945.5,412.9L944.5,411.8L943.5,411.5L942.5,412.7L941.5,413.7L940.5,412.8L939.5,415.0L938.5,413.3L937.5,413.0L936.5,414.8L935.5,412.1L934.5,411.9L933.5,412.5L932.5,412.6L931.5,412.3L930.5,413.9L929.5,414.0L928.5,411.9L927.5,412.5L926.5,412.9L925.5,413.6L924.5,414.2L923.5,414.8L922.5,410.7L921.5,412.4L920.5,411.8L919.5,415.4L918.5,411.2L917.5,412.4L916.5,415.1L915.5,413.7L914.5,412.4L913.5,411.9L912.5,414.8L911.5,411.6L910.5,414.7L909.5,415.0L908.5,409.6L907.5,412.6L906.5,413.2L905.5,413.3L904.5,413.3L903.5,413.7L902.5,411.3L901.5,414.7L900.5,412.8L899.5,414.1L898.5,412.4L897.5,412.0L896.5,412.7L895.5,411.3L894.5,412.4L893.5,413.1L892.5,412.8L891.5,413.8L890.5,414.2L889.5,413.7Z" fill="#E6DEC4" opacity="0.75"/><path d="M815.7,412.0L818.0,412.0L817.3,420.1L816.4,420.1ZM820.4,412.0L822.2,412.0L821.7,420.6L820.8,420.6ZM823.7,412.0L826.8,412.0L825.7,434.4L824.8,434.4ZM828.7,412.0L831.7,412.0L830.6,432.0L829.7,432.0ZM833.4,412.0L835.8,412.0L835.1,424.8L834.2,424.8ZM836.9,412.0L839.4,412.0L838.6,429.8L837.7,429.8ZM840.2,412.0L842.9,412.0L842.0,433.9L841.1,433.9ZM843.3,412.0L845.4,412.0L844.8,420.2L843.9,420.2ZM849.5,412.0L852.0,412.0L851.2,433.0L850.3,433.0ZM855.4,412.0L857.4,412.0L856.9,430.6L856.0,430.6ZM858.6,412.0L861.2,412.0L860.3,423.5L859.4,423.5ZM864.0,412.0L866.2,412.0L865.6,430.2L864.7,430.2ZM867.5,412.0L870.4,412.0L869.4,432.7L868.5,432.7ZM872.2,412.0L874.9,412.0L874.0,432.2L873.1,432.2ZM877.3,412.0L880.2,412.0L879.2,421.0L878.3,421.0ZM892.1,412.0L894.3,412.0L893.6,425.2L892.7,425.2ZM895.1,412.0L898.1,412.0L897.1,429.2L896.2,429.2ZM900.8,412.0L903.8,412.0L902.8,424.9L901.9,424.9ZM907.3,412.0L909.5,412.0L908.9,434.4L908.0,434.4ZM910.1,412.0L912.0,412.0L911.5,427.4L910.6,427.4ZM913.1,412.0L915.5,412.0L914.7,421.4L913.8,421.4ZM919.4,412.0L921.4,412.0L920.9,422.5L920.0,422.5ZM923.2,412.0L925.3,412.0L924.7,425.2L923.8,425.2ZM927.8,412.0L930.9,412.0L929.8,422.4L928.9,422.4ZM933.9,412.0L936.0,412.0L935.4,431.3L934.5,431.3ZM938.0,412.0L941.1,412.0L940.0,430.0L939.1,430.0ZM942.7,412.0L944.7,412.0L944.2,430.5L943.3,430.5ZM946.4,412.0L949.5,412.0L948.4,429.4L947.5,429.4ZM950.7,412.0L952.7,412.0L952.2,427.5L951.3,427.5ZM953.6,412.0L955.7,412.0L955.1,431.5L954.2,431.5ZM956.3,412.0L958.3,412.0L957.7,425.1L956.8,425.1ZM961.4,412.0L963.4,412.0L962.8,423.3L961.9,423.3ZM964.8,412.0L967.7,412.0L966.7,422.1L965.8,422.1ZM967.8,412.0L970.8,412.0L969.8,423.4L968.9,423.4ZM973.1,412.0L976.1,412.0L975.1,424.3L974.2,424.3ZM979.2,412.0L982.2,412.0L981.1,420.6L980.2,420.6ZM983.2,412.0L985.1,412.0L984.6,422.5L983.7,422.5ZM986.6,412.0L989.0,412.0L988.2,427.8L987.3,427.8ZM990.2,412.0L993.0,412.0L992.0,429.5L991.1,429.5Z" fill="#E6DEC4" opacity="0.85"/><path d="M814.50,406.4L814.95,409.0L815.40,405.7L815.85,404.2L816.30,404.2L816.75,408.8L817.20,406.8L817.65,412.5L818.10,407.6L818.55,407.8L819.00,408.9L819.45,407.9L819.90,407.3L820.35,411.9L820.80,408.0L821.25,410.5L821.70,406.8L822.15,407.9L822.60,406.9L823.05,412.3L823.50,408.5L823.95,408.9L824.40,409.2L824.85,412.9L825.30,407.7L825.75,411.4L826.20,409.5L826.65,410.2L827.10,408.2L827.55,407.4L828.00,407.8L828.45,413.2L828.90,408.0L829.35,413.5L829.80,407.5L830.25,405.9L830.70,406.7L831.15,407.1L831.60,406.6L832.05,408.9L832.50,409.6L832.95,407.0L833.40,407.8L833.85,410.1L834.30,407.8L834.75,409.9L835.20,406.8L835.65,407.9L836.10,406.2L836.55,410.7L837.00,403.8L837.45,405.4L837.90,404.9L838.35,411.4L838.80,405.2L839.25,408.2L839.70,404.6L840.15,408.0L840.60,406.4L841.05,410.0L841.50,406.3L841.95,407.3L842.40,405.5L842.85,406.2L843.30,406.5L843.75,407.5L844.20,405.9L844.65,405.2L845.10,404.3L845.55,406.1L846.00,406.7L846.45,405.7L846.90,403.8L847.35,407.4L847.80,403.8L848.25,409.4L848.70,407.7L849.15,408.0L849.60,402.9L850.05,404.1L850.50,407.4L850.95,402.4L851.40,405.4L851.85,406.3L852.30,405.5L852.75,410.4L853.20,405.6L853.65,408.4L854.10,405.7L854.55,408.3L855.00,407.5L855.45,405.1L855.90,407.3L856.35,409.6L856.80,408.3L857.25,409.9L857.70,407.8L858.15,410.4L858.60,407.3L859.05,405.2L859.50,408.6L859.95,410.5L860.40,405.9L860.85,405.7L861.30,408.9L861.75,406.6L862.20,408.3L862.65,406.8L863.10,407.7L863.55,409.0L864.00,407.9L864.45,411.6L864.90,407.6L865.35,406.3L865.80,406.0L866.25,406.9L866.70,407.9L867.15,406.3L867.60,406.1L868.05,410.8L868.50,407.3L868.95,407.6L869.40,407.6L869.85,408.6L870.30,408.4L870.75,406.8L871.20,408.3L871.65,406.7L872.10,406.2L872.55,408.1L873.00,408.2L873.45,410.6L873.90,408.6L874.35,409.3L874.80,407.3L875.25,411.5L875.70,407.3L876.15,406.8L876.60,407.6L877.05,409.4L877.50,406.6L877.95,410.7L878.40,405.6L878.85,408.1L879.30,407.8L879.75,410.5L880.20,404.7L880.65,412.9L881.10,407.0L881.55,406.0L882.00,405.2M888.30,404.6L888.75,410.3L889.20,406.3L889.65,406.5L890.10,404.7L890.55,410.2L891.00,404.1L891.45,413.4L891.90,404.1L892.35,408.2L892.80,406.1L893.25,403.4L893.70,407.5L894.15,408.0L894.60,405.6L895.05,408.6L895.50,405.6L895.95,405.4L896.40,403.4L896.85,410.0L897.30,403.0L897.75,410.6L898.20,403.5L898.65,410.7L899.10,404.7L899.55,410.8L900.00,405.8L900.45,412.1L900.90,403.8L901.35,409.0L901.80,406.9L902.25,405.3L902.70,405.6L903.15,410.8L903.60,404.7L904.05,408.0L904.50,407.9L904.95,406.0L905.40,406.7L905.85,408.0L906.30,407.7L906.75,407.3L907.20,405.2L907.65,406.0L908.10,408.6L908.55,409.5L909.00,406.4L909.45,406.3L909.90,407.0L910.35,406.9L910.80,408.5L911.25,409.2L911.70,407.7L912.15,409.4L912.60,409.1L913.05,408.1L913.50,407.3L913.95,410.6L914.40,406.4L914.85,410.5L915.30,408.0L915.75,406.7L916.20,405.2L916.65,409.5L917.10,408.4L917.55,407.4L918.00,407.5L918.45,406.2L918.90,409.2L919.35,409.8L919.80,408.5L920.25,410.8L920.70,408.1L921.15,412.8L921.60,407.1L922.05,412.0L922.50,406.7L922.95,405.8L923.40,407.1L923.85,410.3L924.30,406.5L924.75,413.1L925.20,405.6L925.65,410.6L926.10,404.5L926.55,405.2L927.00,407.6L927.45,413.0L927.90,405.8L928.35,408.8L928.80,407.2L929.25,405.6L929.70,403.5L930.15,407.9L930.60,406.8L931.05,405.8L931.50,404.0L931.95,412.3L932.40,402.8L932.85,403.1L933.30,402.6L933.75,411.8L934.20,407.1L934.65,409.6L935.10,405.4L935.55,402.8L936.00,403.1L936.45,408.2L936.90,405.8L937.35,407.4L937.80,407.2L938.25,407.9L938.70,405.5L939.15,407.3L939.60,403.9L940.05,402.6L940.50,407.3L940.95,409.9L941.40,402.2L941.85,407.5L942.30,404.4L942.75,412.3L943.20,406.5L943.65,405.4L944.10,404.2L944.55,405.7L945.00,404.3L945.45,407.2L945.90,408.0L946.35,405.4L946.80,406.9L947.25,409.0L947.70,407.7L948.15,408.1L948.60,406.0L949.05,405.5L949.50,405.9L949.95,405.7L950.40,406.7L950.85,410.2L951.30,404.8L951.75,410.9L952.20,407.8L952.65,405.5L953.10,405.5L953.55,409.8L954.00,406.5L954.45,406.9L954.90,409.5L955.35,412.6L955.80,405.4L956.25,410.3L956.70,407.2L957.15,410.2L957.60,408.6L958.05,406.7L958.50,408.5L958.95,407.1L959.40,409.4L959.85,406.6L960.30,407.3L960.75,406.2L961.20,408.6L961.65,412.0L962.10,407.2L962.55,412.0L963.00,405.5L963.45,408.7L963.90,407.2L964.35,409.0L964.80,407.7L965.25,411.9L965.70,405.4L966.15,411.0L966.60,406.4L967.05,407.7L967.50,404.4L967.95,411.6L968.40,406.3L968.85,407.8L969.30,407.1L969.75,409.5L970.20,406.1L970.65,404.1L971.10,405.5L971.55,407.5L972.00,406.2L972.45,406.7L972.90,406.2L973.35,402.8L973.80,403.6L974.25,406.6L974.70,402.9L975.15,409.3L975.60,405.8L976.05,409.0L976.50,404.4L976.95,407.2L977.40,402.9L977.85,406.7L978.30,402.0L978.75,410.8L979.20,405.2L979.65,404.2L980.10,407.2L980.55,405.8L981.00,407.5L981.45,402.8L981.90,407.9L982.35,411.4L982.80,407.6L983.25,413.3L983.70,404.1L984.15,402.0L984.60,404.2L985.05,411.4L985.50,407.6L985.95,405.8L986.40,405.0L986.85,405.1L987.30,406.4L987.75,408.3L988.20,406.1L988.65,412.7L989.10,405.0L989.55,410.6L990.00,404.0L990.45,405.1L990.90,404.7L991.35,409.1L991.80,406.1L992.25,404.0L992.70,407.9L993.15,410.6L993.60,407.0L994.05,409.6L994.50,406.8L994.95,406.5L995.40,406.2L995.85,405.6" fill="none" stroke="#E6DEC4" stroke-width="1.1" opacity="0.9"/><path d="M814.50,409.1L814.95,407.0L815.40,409.3L815.85,405.0L816.30,408.8L816.75,412.7L817.20,405.7L817.65,408.3L818.10,403.6L818.55,408.7L819.00,408.5L819.45,410.0L819.90,409.8L820.35,410.3L820.80,403.0L821.25,409.1L821.70,406.9L822.15,403.3L822.60,403.2L823.05,411.1L823.50,406.7L823.95,403.5L824.40,407.0L824.85,409.1L825.30,408.3L825.75,409.3L826.20,404.4L826.65,408.4L827.10,405.7L827.55,413.7L828.00,408.7L828.45,409.9L828.90,407.6L829.35,406.7L829.80,405.6L830.25,407.3L830.70,406.2L831.15,411.7L831.60,406.1L832.05,408.8L832.50,407.7L832.95,409.0L833.40,405.8L833.85,410.9L834.30,405.7L834.75,411.8L835.20,407.6L835.65,408.9L836.10,407.7L836.55,408.3L837.00,409.0L837.45,410.0L837.90,407.2L838.35,407.6L838.80,409.9L839.25,411.2L839.70,406.3L840.15,410.3L840.60,407.8L841.05,410.3L841.50,408.4L841.95,413.3L842.40,407.8L842.85,409.8L843.30,405.4L843.75,409.6L844.20,407.3L844.65,413.4L845.10,406.9L845.55,405.4L846.00,407.7L846.45,408.3L846.90,408.7L847.35,407.1L847.80,406.4L848.25,406.5L848.70,409.9L849.15,411.8L849.60,407.6L850.05,412.0L850.50,410.0L850.95,411.2L851.40,408.7L851.85,413.7L852.30,406.5L852.75,413.3L853.20,408.0L853.65,408.7L854.10,409.0L854.55,406.4L855.00,405.8L855.45,405.2L855.90,408.3L856.35,413.1L856.80,406.2L857.25,411.8L857.70,405.6L858.15,413.7L858.60,404.9L859.05,407.7L859.50,404.4L859.95,410.1L860.40,402.1L860.85,402.8L861.30,406.1L861.75,405.2L862.20,405.6L862.65,407.6L863.10,406.7L863.55,407.2L864.00,405.4L864.45,404.7L864.90,404.7L865.35,410.4L865.80,406.2L866.25,405.3L866.70,405.0L867.15,410.0L867.60,405.4L868.05,410.3L868.50,407.8L868.95,410.2L869.40,405.8L869.85,407.8L870.30,403.9L870.75,412.6L871.20,404.9L871.65,408.6L872.10,408.3L872.55,404.7L873.00,405.2L873.45,411.3L873.90,403.3L874.35,407.9L874.80,405.3L875.25,412.4L875.70,404.0L876.15,410.0L876.60,405.2L877.05,408.9L877.50,405.3L877.95,413.1L878.40,407.0L878.85,413.4L879.30,406.3L879.75,410.2L880.20,407.3L880.65,411.4L881.10,406.4L881.55,405.1L882.00,408.6M888.30,408.5L888.75,407.4L889.20,407.0L889.65,408.1L890.10,408.1L890.55,414.0L891.00,407.8L891.45,406.5L891.90,405.2L892.35,411.0L892.80,409.1L893.25,405.7L893.70,408.6L894.15,406.5L894.60,407.0L895.05,407.4L895.50,406.5L895.95,413.1L896.40,405.4L896.85,407.5L897.30,405.2L897.75,408.3L898.20,408.2L898.65,411.1L899.10,406.1L899.55,406.6L900.00,405.6L900.45,409.9L900.90,406.7L901.35,412.5L901.80,404.5L902.25,403.9L902.70,405.7L903.15,413.1L903.60,406.0L904.05,412.6L904.50,406.8L904.95,410.1L905.40,403.2L905.85,410.7L906.30,404.0L906.75,408.1L907.20,405.1L907.65,412.5L908.10,408.3L908.55,409.4L909.00,406.6L909.45,412.9L909.90,403.2L910.35,406.7L910.80,406.7L911.25,402.9L911.70,408.5L912.15,409.0L912.60,404.1L913.05,412.7L913.50,407.6L913.95,405.3L914.40,406.1L914.85,412.6L915.30,406.7L915.75,409.7L916.20,408.0L916.65,410.5L917.10,407.5L917.55,410.0L918.00,405.4L918.45,408.2L918.90,406.6L919.35,406.8L919.80,405.5L920.25,406.2L920.70,406.5L921.15,409.3L921.60,406.3L922.05,411.6L922.50,406.9L922.95,413.9L923.40,409.3L923.85,410.8L924.30,407.0L924.75,411.7L925.20,405.9L925.65,412.5L926.10,407.4L926.55,406.5L927.00,406.9L927.45,407.9L927.90,407.2L928.35,410.7L928.80,409.2L929.25,409.3L929.70,409.1L930.15,407.9L930.60,408.0L931.05,411.4L931.50,407.7L931.95,410.7L932.40,407.7L932.85,410.6L933.30,409.3L933.75,412.0L934.20,406.7L934.65,407.4L935.10,408.6L935.55,405.9L936.00,408.6L936.45,407.2L936.90,407.6L937.35,410.6L937.80,406.1L938.25,410.7L938.70,407.6L939.15,412.6L939.60,405.9L940.05,411.5L940.50,406.8L940.95,413.0L941.40,404.5L941.85,406.2L942.30,405.2L942.75,408.3L943.20,408.2L943.65,411.1L944.10,406.6L944.55,412.6L945.00,405.5L945.45,412.3L945.90,404.7L946.35,404.8L946.80,408.0L947.25,407.5L947.70,407.2L948.15,412.3L948.60,402.8L949.05,409.6L949.50,407.8L949.95,408.8L950.40,405.5L950.85,410.6L951.30,405.9L951.75,413.8L952.20,405.7L952.65,404.8L953.10,405.3L953.55,410.6L954.00,408.2L954.45,407.6L954.90,406.1L955.35,410.3L955.80,406.9L956.25,412.0L956.70,404.9L957.15,407.6L957.60,408.3L958.05,408.2L958.50,404.4L958.95,410.4L959.40,406.1L959.85,404.7L960.30,408.0L960.75,410.5L961.20,405.5L961.65,410.0L962.10,405.9L962.55,408.7L963.00,406.1L963.45,409.4L963.90,408.0L964.35,409.0L964.80,407.1L965.25,409.7L965.70,407.5L966.15,404.1L966.60,407.0L967.05,409.3L967.50,408.1L967.95,411.5L968.40,406.8L968.85,407.8L969.30,409.7L969.75,412.0L970.20,406.1L970.65,413.2L971.10,409.1L971.55,409.5L972.00,405.9L972.45,407.7L972.90,406.3L973.35,413.7L973.80,406.0L974.25,408.5L974.70,404.8L975.15,410.3L975.60,407.4L976.05,410.1L976.50,408.7L976.95,405.8L977.40,407.4L977.85,414.3L978.30,408.2L978.75,408.8L979.20,408.8L979.65,413.5L980.10,408.9L980.55,404.6L981.00,408.9L981.45,411.3L981.90,410.0L982.35,410.7L982.80,408.5L983.25,405.2L983.70,407.9L984.15,411.2L984.60,409.9L985.05,413.7L985.50,408.0L985.95,408.4L986.40,409.1L986.85,410.2L987.30,405.8L987.75,407.2L988.20,405.3L988.65,411.6L989.10,406.7L989.55,405.6L990.00,403.2L990.45,409.5L990.90,404.5L991.35,410.2L991.80,405.4L992.25,411.7L992.70,407.4L993.15,412.0L993.60,408.0L994.05,411.7L994.50,407.4L994.95,411.4L995.40,405.3L995.85,410.3" fill="none" stroke="#E6DEC4" stroke-width="1.1" opacity="0.8"/><path d="M872.3,403.5L872.8,401.7L873.3,401.6L873.8,399.8L874.3,399.4L874.8,398.3L875.3,397.0L875.8,395.9L876.3,394.1L876.8,391.4L877.3,389.6L877.8,387.6L878.3,384.8L878.8,381.1L879.3,377.7L879.8,374.0L880.3,369.5L880.8,365.0L881.3,361.8L881.9,355.9L882.6,351.2L883.3,345.9L884.0,342.3L884.7,338.5L885.3,334.9L885.7,337.9L886.0,341.3L886.3,347.2L886.6,351.7L886.9,355.7L887.3,361.6L887.8,365.8L888.3,370.2L888.8,374.3L889.3,377.5L889.8,381.0L890.3,384.7L890.8,387.2L891.3,389.2L891.8,392.9L892.3,393.7L892.8,395.2L893.3,396.6L893.8,398.5L894.3,399.8L894.8,400.3L895.3,401.4L895.8,400.9L896.3,402.1M874.3,402.0L874.8,401.7L875.3,401.2L875.8,399.2L876.3,400.8L876.8,397.8L877.3,397.1L877.8,395.9L878.3,394.2L878.8,392.0L879.3,388.2L879.8,386.6L880.3,384.8L880.8,380.8L881.3,377.3L881.8,372.9L882.3,370.6L882.8,365.9L883.3,360.5L883.7,356.1L884.0,351.1L884.3,345.7L884.6,341.5L884.9,337.7L885.3,335.3L885.9,338.2L886.6,341.7L887.3,346.0L888.0,351.4L888.7,355.8L889.3,360.3L889.8,366.2L890.3,369.8L890.8,374.1L891.3,378.2L891.8,380.7L892.3,384.7L892.8,387.4L893.3,389.6L893.8,392.0L894.3,393.4L894.8,394.3L895.3,396.8L895.8,397.7L896.3,399.7L896.8,400.3L897.3,400.7L897.8,401.7L898.3,402.9" fill="none" stroke="#DCD8CC" stroke-width="1.25" opacity="0.95"/></g><polyline points="610.5,410.4 622.0,410.0 635.8,409.1 642.0,408.0 648.7,406.5 654.0,408.5 660.0,410.5 669.4,411.7 672.0,410.4 674.5,400.0 677.7,384.6 681.0,358.8 683.6,331.6 685.4,330.3 687.5,345.8 690.0,371.7 692.7,397.5 694.5,407.0 696.5,410.4 697.8,410.4 703.0,409.1 707.0,407.0 709.4,405.2 713.3,397.5 715.9,371.7 718.5,345.8 721.0,331.6 722.3,334.0 723.6,343.3 726.2,371.7 728.3,397.5 730.1,405.2 731.4,405.2 744.3,405.2 755.0,404.6 765.0,404.0 771.0,405.5 777.9,406.5 784.0,405.3 790.8,404.0 795.9,404.0" fill="none" stroke="#D4D2CA" stroke-width="1.7" stroke-linejoin="round" filter="url(#bl)"/><line x1="514.2" y1="364.2" x2="501.7" y2="374.6" stroke="#F5B800" stroke-width="1.6"/><polygon points="495.6,379.7 499.4,370.3 505.6,377.6" fill="#F5B800"/><line x1="653.7" y1="362.9" x2="666.4" y2="368.5" stroke="#F5B800" stroke-width="1.6"/><polygon points="673.7,371.8 663.5,372.5 667.4,363.8" fill="#F5B800"/><line x1="747.8" y1="363.4" x2="738.7" y2="368.1" stroke="#F5B800" stroke-width="1.6"/><polygon points="731.6,371.8 737.4,363.4 741.8,371.9" fill="#F5B800"/><line x1="915.4" y1="355.1" x2="901.5" y2="365.7" stroke="#F5B800" stroke-width="1.6"/><polygon points="895.2,370.6 899.4,361.3 905.3,368.9" fill="#F5B800"/><path d="M583.7,374.8H611.4V368L626.2,382L611.4,396.5V389.4H583.7Z" fill="#4A7CC0" stroke="#3A66A6" stroke-width="1"/><path d="M786.7,373.3H816V366.5L832,380.5L816,395.0V387.9H786.7Z" fill="#4A7CC0" stroke="#3A66A6" stroke-width="1"/></svg>
<div id="t1" class="t" style="left:109.34px;top:3.96px;font-size:13.50px;letter-spacing:0.58px;color:#262626">東北大設置</div>
<div id="t2" class="t" style="left:91.53px;top:27.39px;font-size:13.50px;letter-spacing:-1.51px;color:#262626">トラフィック予測機能</div>
<div id="t3" class="t" style="left:141.70px;top:45.95px;font-size:15.10px;letter-spacing:-1.80px;color:#262626">学習データ、</div>
<div id="t4" class="t" style="left:140.42px;top:61.78px;font-size:15.10px;letter-spacing:-3.07px;color:#262626">トラフィック</div>
<div id="t5" class="t" style="left:302.27px;top:57.45px;font-size:13.40px;letter-spacing:1.05px;color:#FFFFFF">AI予測</div>
<div id="t6" class="t" style="left:247.13px;top:113.59px;font-size:14.00px;letter-spacing:0.34px;color:#2B78C5">予測結果</div>
<div id="t7" class="t" style="left:46.27px;top:136.06px;font-size:12.50px;letter-spacing:1.39px;color:#262626">OKI設置</div>
<div id="t8" class="t" style="left:48.95px;top:163.33px;font-size:13.20px;letter-spacing:0.11px;color:#262626">仮想PONシステム</div>
<div id="t9" class="t" style="left:65.03px;top:181.90px;font-size:13.50px;letter-spacing:1.26px;color:#262626">駆動</div>
<div id="t10" class="t" style="left:150.90px;top:186.55px;font-size:14.20px;letter-spacing:-2.04px;color:#262626">光ファイバ</div>
<div id="t11" class="t" style="left:227.47px;top:160.96px;font-size:13.50px;letter-spacing:-0.88px;color:#262626">サーバ</div>
<div id="t12" class="t" style="left:287.75px;top:180.23px;font-size:14.50px;letter-spacing:-1.28px;color:#FFFFFF">OSSベース</div>
<div id="t13" class="t" style="left:280.72px;top:196.68px;font-size:14.50px;letter-spacing:-0.74px;color:#FFFFFF">資源割当制御</div>
<div id="t14" class="t" style="left:67.77px;top:231.84px;font-size:11.50px;letter-spacing:0.64px;color:#FFFFFF">ONU1</div>
<div id="t15" class="t" style="left:93.98px;top:264.87px;font-size:10.50px;letter-spacing:0.07px;color:#FFFFFF">ONU</div>
<div id="t16" class="t" style="left:201.16px;top:227.24px;font-size:13.60px;letter-spacing:-2.02px;color:#2B78C5">スライス1</div>
<div id="t17" class="t" style="left:205.35px;top:243.23px;font-size:14.00px;letter-spacing:2.00px;color:#2B78C5">（λ1）</div>
<div id="t18" class="t" style="left:303.71px;top:252.01px;font-size:14.30px;letter-spacing:-0.50px;color:#262626">vOLT</div>
<div id="t19" class="t" style="left:288.87px;top:276.99px;font-size:13.00px;letter-spacing:1.26px;color:#FFFFFF">OSU1(λ1)</div>
<div id="t20" class="t" style="left:288.87px;top:309.21px;font-size:13.00px;letter-spacing:1.34px;color:#FFFFFF">OSU2(λ2)</div>
<div id="t21" class="t" style="left:288.87px;top:343.01px;font-size:13.00px;letter-spacing:1.34px;color:#E8E8E8">OSU3(λ3)</div>
<div id="t22" class="t" style="left:288.87px;top:376.01px;font-size:13.00px;letter-spacing:1.34px;color:#E8E8E8">OSU4(λ4)</div>
<div id="t23" class="t" style="left:67.57px;top:304.74px;font-size:11.50px;letter-spacing:0.50px;color:#FFFFFF">ONU2</div>
<div id="t24" class="t" style="left:93.98px;top:337.57px;font-size:10.50px;letter-spacing:0.37px;color:#FFFFFF">ONU</div>
<div id="t25" class="t" style="left:205.07px;top:284.51px;font-size:13.60px;letter-spacing:-1.75px;color:#2B78C5">スライス2</div>
<div id="t26" class="t" style="left:209.45px;top:300.38px;font-size:14.00px;letter-spacing:1.98px;color:#2B78C5">（λ1）</div>
<div id="t27" class="t" style="left:206.35px;top:332.12px;font-size:14.20px;letter-spacing:-2.04px;color:#262626">スプリッタ</div>
<div id="t28" class="t" style="left:176.43px;top:362.54px;font-size:13.50px;letter-spacing:0.75px;color:#262626">波長変更指示</div>
<div id="t29" class="t" style="left:67.57px;top:386.54px;font-size:11.50px;letter-spacing:0.46px;color:#FFFFFF">ONU3</div>
<div id="t30" class="t" style="left:93.98px;top:418.57px;font-size:10.50px;letter-spacing:0.37px;color:#FFFFFF">ONU</div>
<div id="t31" class="t" style="left:197.28px;top:386.72px;font-size:13.60px;letter-spacing:-1.28px;color:#2B78C5">スライス3</div>
<div id="t32" class="t" style="left:186.94px;top:403.77px;font-size:14.00px;letter-spacing:1.68px;color:#2B78C5">（λ1orλ2）</div>
<div id="t33" class="t" style="left:187.03px;top:427.60px;font-size:13.00px;letter-spacing:1.88px;color:#262626">波長変換</div>
<div id="t34" class="t" style="left:87.54px;top:456.52px;font-size:13.50px;letter-spacing:-0.90px;color:#262626">スリープ</div>
<div id="t35" class="t" style="left:177.79px;top:462.09px;font-size:16.60px;letter-spacing:0.69px;color:#262626;text-decoration:underline;text-decoration-thickness:1.3px;text-underline-offset:3.0px">装置構成</div>
<div id="t36" class="t" style="left:277.65px;top:427.43px;font-size:13.50px;letter-spacing:-0.90px;color:#262626">スリープ</div>
<div id="t37" class="t" style="left:342.73px;top:460.70px;font-size:13.50px;letter-spacing:1.14px;color:#262626">駆動</div>
<div id="t38" class="t" style="left:557.32px;top:32.38px;font-size:16.00px;letter-spacing:-0.71px;color:#262626;text-decoration:underline;text-decoration-thickness:1.3px;text-underline-offset:3.4px">発生総トラフィック量とAI予測結果</div>
<div id="t39" class="t" style="left:448.70px;top:113.95px;font-size:13.93px;letter-spacing:-0.07px;color:#262626;transform-origin:0 0;transform:rotate(-90deg)">通信量</div>
<div id="t40" class="t" style="left:570.26px;top:76.25px;font-size:13.20px;letter-spacing:1.44px;color:#262626">AI予測結果</div>
<div id="t41" class="t" style="left:741.75px;top:76.73px;font-size:13.20px;letter-spacing:-1.85px;color:#262626">実トラフィック</div>
<div id="t42" class="t" style="left:855.98px;top:117.47px;font-size:13.00px;letter-spacing:0.73px;color:#262626">しきい値</div>
<div id="t43" class="t" style="left:859.57px;top:133.45px;font-size:13.00px;letter-spacing:0.15px;color:#262626">(8Gbps)</div>
<div id="t44" class="t" style="left:543.23px;top:207.70px;font-size:13.20px;letter-spacing:0.88px;color:#262626">少ない区間</div>
<div id="t45" class="t" style="left:655.33px;top:207.70px;font-size:13.20px;letter-spacing:1.45px;color:#262626">多い区間</div>
<div id="t46" class="t" style="left:766.05px;top:207.63px;font-size:13.20px;letter-spacing:1.15px;color:#262626">少ない区間</div>
<div id="t47" class="t" style="left:888.75px;top:252.68px;font-size:13.00px;letter-spacing:2.88px;color:#262626">時間</div>
<div id="t48" class="t" style="left:441.97px;top:292.46px;font-size:12.00px;letter-spacing:1.72px;color:#262626">OSU1のみを駆動</div>
<div id="t49" class="t" style="left:420.94px;top:308.60px;font-size:13.40px;letter-spacing:1.06px;color:#262626">全てのONUをλ1で通信</div>
<div id="t50" class="t" style="left:637.38px;top:290.26px;font-size:12.00px;letter-spacing:1.03px;color:#262626">OSU1とOSU2を駆動</div>
<div id="t51" class="t" style="left:623.75px;top:306.13px;font-size:13.40px;letter-spacing:0.81px;color:#262626">ONU3をλ2に変更、通信</div>
<div id="t52" class="t" style="left:851.78px;top:291.28px;font-size:12.00px;letter-spacing:1.67px;color:#262626">OSU1のみを駆動</div>
<div id="t53" class="t" style="left:832.21px;top:307.07px;font-size:13.40px;letter-spacing:0.93px;color:#262626">全てのONUをλ1で通信</div>
<div id="t54" class="t" style="left:497.10px;top:329.50px;font-size:13.00px;letter-spacing:-0.27px;color:#F5B800">ONU1、ONU2、</div>
<div id="t55" class="t" style="left:497.09px;top:347.38px;font-size:13.00px;letter-spacing:0.79px;color:#F5B800">ONU3を収容</div>
<div id="t56" class="t" style="left:442.31px;top:422.22px;font-size:15.60px;letter-spacing:2.45px;color:#F5B800">λ1のみ駆動</div>
<div id="t57" class="t" style="left:613.58px;top:327.58px;font-size:13.00px;letter-spacing:-0.63px;color:#F5B800">ONU1、ONU2</div>
<div id="t58" class="t" style="left:612.56px;top:344.44px;font-size:13.00px;letter-spacing:2.72px;color:#F5B800">を収容</div>
<div id="t59" class="t" style="left:744.41px;top:327.76px;font-size:13.00px;letter-spacing:-0.40px;color:#F5B800">ONU3</div>
<div id="t60" class="t" style="left:743.46px;top:344.44px;font-size:13.00px;letter-spacing:1.88px;color:#F5B800">を収容</div>
<div id="t61" class="t" style="left:657.09px;top:420.19px;font-size:15.60px;letter-spacing:2.43px;color:#F5B800">λ1、λ2駆動</div>
<div id="t62" class="t" style="left:898.08px;top:325.68px;font-size:13.00px;letter-spacing:-0.47px;color:#F5B800">ONU1、ONU2、</div>
<div id="t63" class="t" style="left:898.08px;top:342.56px;font-size:13.00px;letter-spacing:0.57px;color:#F5B800">ONU3を収容</div>
<div id="t64" class="t" style="left:842.92px;top:422.83px;font-size:15.60px;letter-spacing:2.46px;color:#F5B800">λ1のみ駆動</div>
<div id="t65" class="t" style="left:646.68px;top:454.52px;font-size:16.00px;letter-spacing:1.67px;color:#262626;text-decoration:underline;text-decoration-thickness:1.3px;text-underline-offset:3.0px">駆動波長の状態</div>
</body></html>
